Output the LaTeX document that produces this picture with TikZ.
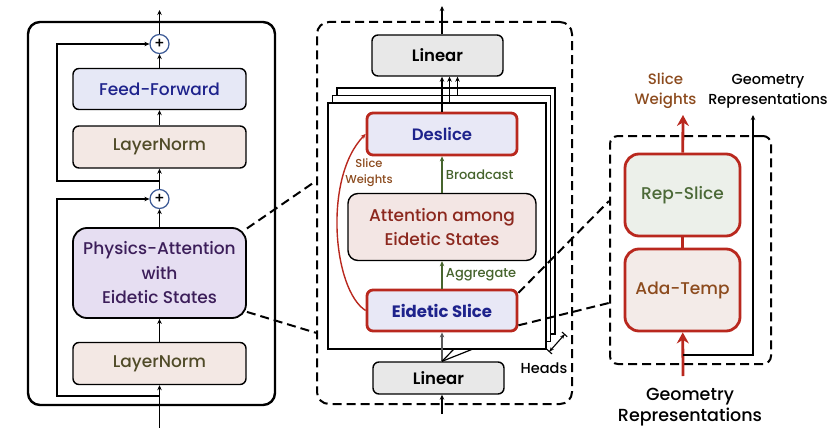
\documentclass[tikz,border=0pt]{standalone}
\usepackage{fontspec}
\setmainfont{Poppins}[UprightFont=* Medium, BoldFont=* SemiBold]
\newfontfamily\heavyfont{Poppins}[UprightFont=* Bold]
\usepackage{xcolor}
\usetikzlibrary{shapes,arrows.meta,positioning,calc}

\definecolor{addblue}{RGB}{60,90,150}
\definecolor{fffill}{RGB}{230,232,246}
\definecolor{fftext}{RGB}{30,35,140}
\definecolor{lnfill}{RGB}{243,232,228}
\definecolor{lntext}{RGB}{80,75,40}
\definecolor{pafill}{RGB}{230,222,242}
\definecolor{patext}{RGB}{60,30,90}
\definecolor{linfill}{RGB}{232,232,232}
\definecolor{slfill}{RGB}{232,232,246}
\definecolor{redb}{RGB}{185,40,30}
\definecolor{attfill}{RGB}{243,230,228}
\definecolor{atttext}{RGB}{140,40,30}
\definecolor{greenl}{RGB}{70,100,45}
\definecolor{brownt}{RGB}{140,75,30}
\definecolor{repfill}{RGB}{236,240,234}
\definecolor{reptext}{RGB}{75,105,55}
\definecolor{adafill}{RGB}{243,235,232}

\begin{document}
\begin{tikzpicture}[x=1pt, y=-1pt, >={Stealth[length=5pt,width=4.5pt]}]

% Styles for the three parts
\tikzstyle{block}=[rectangle, rounded corners=6pt, draw=black, line width=1.4pt, minimum width=173pt, minimum height=41pt, align=center, font=\fontsize{17}{24.5}\selectfont]
\tikzstyle{sliceblock}=[block, draw=redb, line width=2.8pt, fill=slfill, text=fftext, minimum width=150pt]
\tikzstyle{repblock}=[block, draw=redb, line width=2.8pt, rounded corners=14pt, minimum width=115pt, minimum height=82pt]
\tikzstyle{outerbox}=[rectangle, rounded corners=12pt, draw=black, line width=2.4pt]
\tikzstyle{dashbox}=[rectangle, rounded corners=12pt, draw=black, line width=2pt, dash pattern=on 9pt off 5pt]
\tikzstyle{headframe}=[rectangle, draw=black, line width=1.2pt, fill=white, minimum width=218pt, minimum height=246pt]
\tikzstyle{addop}=[circle, draw=addblue, line width=1.2pt, fill=white, minimum size=19pt, inner sep=0pt, font=\fontsize{15}{15}\selectfont]
\tikzstyle{flow}=[->, line width=1.3pt]
\tikzstyle{dashconn}=[line width=2pt, dash pattern=on 9pt off 5pt]
\tikzstyle{bigred}=[-{Stealth[length=11pt,width=12pt]}, draw=redb, line width=2.8pt]

\useasboundingbox (0,0) rectangle (833,428);

% Encoder block
\node[outerbox, minimum width=247pt, minimum height=383pt] (enc) at (151.5,213.5) {};
\node[block, fill=lnfill, text=lntext, minimum height=42pt] (ln1) at (159.5,363.5) {LayerNorm};
\node[block, fill=pafill, text=patext, line width=1.8pt, rounded corners=14pt, minimum height=90pt] (pa) at (159.5,273) {Physics-Attention\\with\\Eidetic States};
\node[addop] (add2) at (159.5,199) {+};
\node[block, fill=lnfill, text=lntext, minimum height=42pt] (ln2) at (159.5,147) {LayerNorm};
\node[block, fill=fffill, text=fftext] (ff) at (159.5,89) {Feed-Forward};
\node[addop] (add1) at (159.5,44) {+};

\coordinate (in1) at (159.5,428);
\coordinate (out1) at (159.5,10);
\coordinate (sk1) at (159.5,396);
\coordinate (sk1a) at (57,396);
\coordinate (sk2) at (159.5,181);
\coordinate (sk2a) at (57,181);

\draw[flow] (in1) -- (ln1);
\draw[flow] (ln1) -- (pa);
\draw[flow] (pa) -- (add2);
\draw[flow] (add2) -- (ln2);
\draw[flow] (ln2) -- (ff);
\draw[flow] (ff) -- (add1);
\draw[flow] (add1) -- (out1);
\draw[flow] (sk1) -- (sk1a) |- (add2);
\draw[flow] (sk2) -- (sk2a) |- (add1);

% Physics-Attention
\node[dashbox, minimum width=255pt, minimum height=382pt] (heads) at (444.5,213) {};
\node[headframe] (h3) at (446,211) {};
\node[headframe] (h2) at (441.5,218.5) {};
\node[headframe] (h1) at (437,226) {};

\node[block, fill=linfill, text=black, minimum width=131pt, font=\fontsize{16.5}{20}\selectfont\bfseries] (lint) at (437.5,55.5) {Linear};
\node[sliceblock, minimum height=42pt, font=\fontsize{16.5}{20}\selectfont\bfseries] (dsl) at (442,134) {Deslice};
\node[block, fill=attfill, text=atttext, rounded corners=10pt, minimum width=188pt, minimum height=67pt, font=\fontsize{17}{24}\selectfont] (att) at (442,227) {Attention among\\Eidetic States};
\node[sliceblock, font=\fontsize{16.5}{20}\selectfont\heavyfont] (es) at (442,310.5) {Eidetic Slice};
\node[block, fill=linfill, text=black, minimum width=131pt, minimum height=32pt, font=\fontsize{16.5}{20}\selectfont\bfseries] (linb) at (438.5,378) {Linear};

\coordinate (in2) at (442,414);
\coordinate (out2) at (442,6);
\coordinate (fan1) at (454,349);
\coordinate (fan2) at (473,349);
\coordinate (hd1) at (549,352);
\coordinate (hd2) at (565,334);

\draw[flow] (in2) -- (linb.south -| es);
\draw[flow, draw=black!65] (linb.north -| es) -- (es);
\draw[line width=1.2pt] (linb.north -| es) -- (fan1);
\draw[line width=1.2pt] (linb.north -| es) -- (fan2);
\draw[flow, draw=greenl] (es) -- (att) node[midway, right, text=greenl, font=\fontsize{13}{14}\selectfont] {Aggregate};
\draw[flow, draw=greenl] (att) -- (dsl) node[midway, right, text=greenl, font=\fontsize{13}{14}\selectfont] {Broadcast};
\draw[flow] (dsl) -- (dsl |- lint.south);
\draw[flow] ([xshift=7.5pt]dsl.north |- h1.north) -- ([xshift=7.5pt]dsl.north |- lint.south);
\draw[flow] ([xshift=15.5pt]dsl.north |- h2.north) -- ([xshift=15.5pt]dsl.north |- lint.south);
\draw[flow] (lint.north -| dsl) -- (out2);
\draw[->, draw=redb, line width=1.4pt] (es.west) .. controls (333,290) and (323,178) .. (dsl.west);
\node[text=brownt, align=center, font=\fontsize{11.5}{16}\selectfont] (swl1) at (369,173) {Slice\\Weights};
\draw[{Bar[width=7pt]Stealth[length=4pt,width=4pt]}-{Stealth[length=4pt,width=4pt]Bar[width=7pt]}, line width=1.1pt] (hd1) -- (hd2);
\node[font=\fontsize{14.5}{16}\selectfont] (hdl) at (544,368) {Heads};

% Eidetic Slice
\node[dashbox, rounded corners=8pt, minimum width=161pt, minimum height=228pt] (rb) at (690.5,250) {};
\node[repblock, fill=repfill, text=reptext] (rep) at (682.5,195) {Rep-Slice};
\node[repblock, fill=adafill, text=brownt] (ada) at (682.5,290) {Ada-Temp};

\coordinate (in3) at (683,376);
\coordinate (out3) at (683,115);
\coordinate (gb) at (683,355);
\coordinate (gt) at (753,115);

\draw[draw=redb, line width=2.8pt] (rep) -- (ada);
\draw[bigred] (in3) -- (ada);
\draw[bigred] (rep) -- (out3);
\draw[flow] (gb) -| (gt);
\node[text=brownt, align=center, font=\fontsize{15}{20}\selectfont] (swl2) at (665.5,91) {Slice\\Weights};
\node[align=center, font=\fontsize{14.5}{20}\selectfont] (grl1) at (768,91) {Geometry\\Representations};
\node[align=center, font=\fontsize{17.5}{21}\selectfont] (grl2) at (690,407.5) {Geometry\\Representations};

% Zoom-in lines
\draw[dashconn] (pa.27) -- (heads.166);
\draw[dashconn] (pa.-24) -- (heads.223);
\draw[dashconn] (es.13) -- (rb.149);
\draw[dashconn] (es.-11) -- (rb.213);

\end{tikzpicture}
\end{document}
